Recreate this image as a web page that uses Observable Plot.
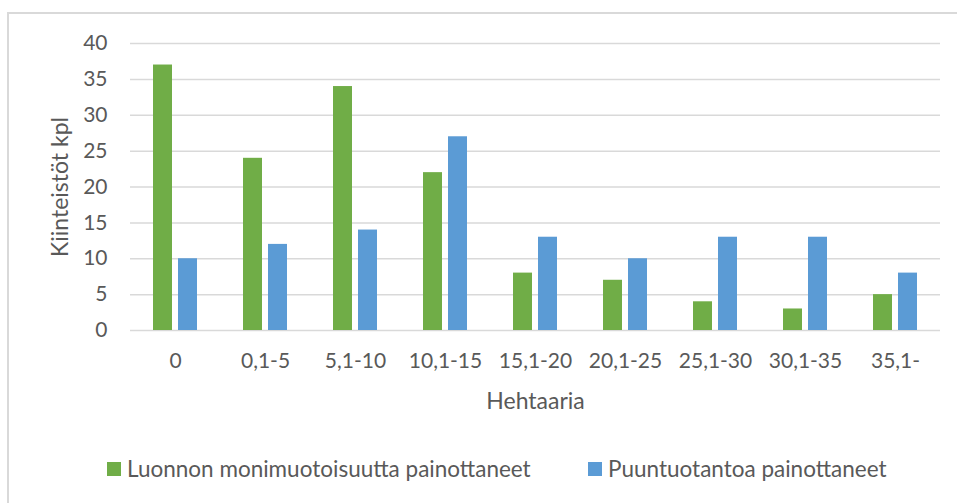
<!DOCTYPE html>
<html><head><meta charset="utf-8">
<script src="https://cdn.jsdelivr.net/npm/d3@7"></script>
<script src="https://cdn.jsdelivr.net/npm/@observablehq/plot@0.6"></script>
<style>
html,body{margin:0;padding:0;background:#fff;overflow:hidden}
#wrap{position:relative;width:957px;height:503px;font-family:Lato,sans-serif;color:#595959;overflow:hidden}
#frame{position:absolute;left:7px;top:12px;width:990px;height:540px;border:2px solid #d9d9d9;box-sizing:border-box}
#chart{position:absolute;left:0;top:0}
#legend{position:absolute;left:107px;top:457px;display:flex;font-size:22.5px;line-height:24px;white-space:nowrap}
.item{display:flex;align-items:center}
.item:first-child{width:481px}
.sw{width:14px;height:14px;margin-right:6px;flex:none}
</style></head>
<body>
<div id="wrap"><div id="frame"></div><div id="chart"></div><div id="legend"></div></div>
<script>
const categories = ["0","0,1-5","5,1-10","10,1-15","15,1-20","20,1-25","25,1-30","30,1-35","35,1-"];
const seriesNames = ["Luonnon monimuotoisuutta painottaneet","Puuntuotantoa painottaneet"];
const luonnonValues = [37,24,34,22,8,7,4,3,5];
const puuValues = [10,12,14,27,13,10,13,13,8];
const seriesColors = ["#70AD47","#5B9BD5"];
const yTicks = [0,5,10,15,20,25,30,35,40];
const xTitle = "Hehtaaria";
const yTitle = "Kiinteistöt kpl";

const data = [];
categories.forEach((c,i)=>{
  data.push({category:c, series:seriesNames[0], value:luonnonValues[i]});
  data.push({category:c, series:seriesNames[1], value:puuValues[i]});
});

const chart = Plot.plot({
  width:957, height:420,
  marginLeft:129, marginRight:16, marginTop:43, marginBottom:90,
  style:{fontFamily:"Lato, sans-serif", fontSize:"21px", color:"#595959", background:"transparent", overflow:"visible"},
  fx:{domain:categories, paddingInner:0, paddingOuter:0},
  x:{domain:seriesNames, paddingInner:0.23, paddingOuter:0.85, axis:null},
  y:{domain:[0,40]},
  color:{domain:seriesNames, range:seriesColors},
  marks:[
    Plot.gridY(yTicks, {stroke:"#d9d9d9", strokeOpacity:1, strokeWidth:1.5}),
    Plot.barY(data, {fx:"category", x:"series", y:"value", fill:"series"}),
    Plot.axisY(yTicks, {tickSize:0, tickPadding:23, fontSize:21, label:null}),
    Plot.axisFx({anchor:"bottom", tickSize:0, tickPadding:23, fontSize:21, label:null}),
    Plot.text([yTitle], {facet:"super", frameAnchor:"left", dx:-70, rotate:-90, textAnchor:"middle", lineAnchor:"middle", fontSize:23, fill:"#595959"}),
    Plot.text([xTitle], {facet:"super", frameAnchor:"bottom", dy:78, textAnchor:"middle", lineAnchor:"bottom", fontSize:23, fill:"#595959"})
  ]
});
document.getElementById("chart").appendChild(chart);

const legend = document.getElementById("legend");
seriesNames.forEach((s,i)=>{
  const it = document.createElement("div"); it.className="item";
  const sw = document.createElement("span"); sw.className="sw"; sw.style.background=seriesColors[i];
  const tx = document.createElement("span"); tx.textContent=s;
  it.appendChild(sw); it.appendChild(tx); legend.appendChild(it);
});
</script>
</body></html>
